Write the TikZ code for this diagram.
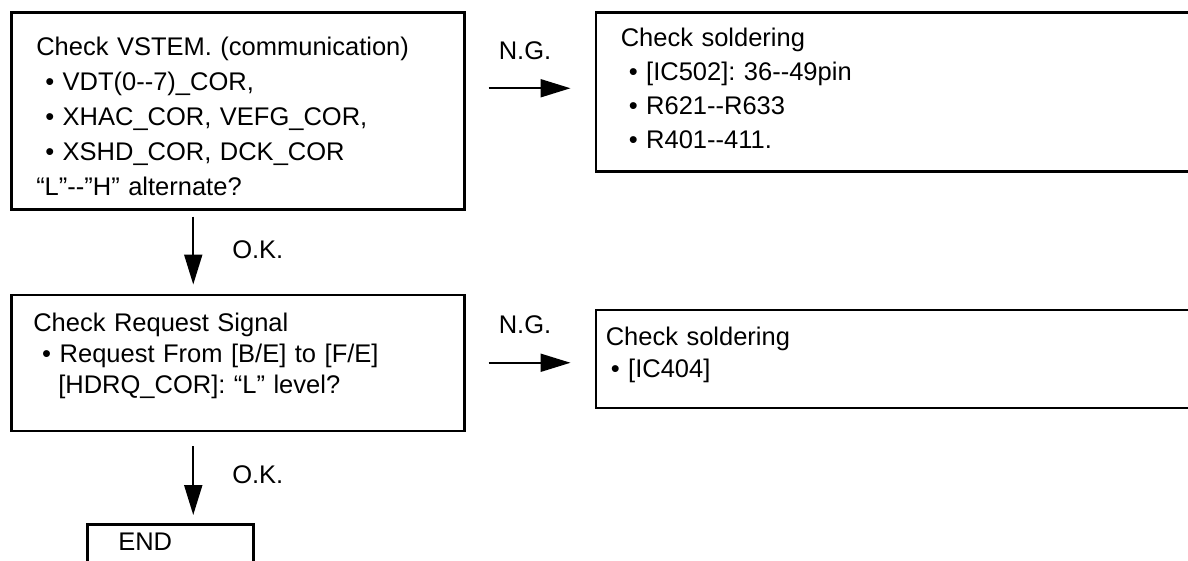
\documentclass[tikz,border=0pt]{standalone}
\usepackage{fontspec}
\setmainfont{Liberation Sans}
\frenchspacing
\usepackage{tikz}
\usetikzlibrary{positioning,arrows.meta}

\begin{document}
\begin{tikzpicture}[x=1pt, y=-1pt,
	box/.style={draw, line width=2.5pt, rectangle, align=left, anchor=north west, font=\fontsize{25.5}{34}\selectfont},
	flow/.style={-{Triangle[length=30pt,width=18pt]}, line width=2pt},
	lbl/.style={inner sep=0pt, font=\fontsize{25.5}{34}\selectfont}]
\useasboundingbox (0,0) rectangle (1188,560);
\node[box, font=\fontsize{25.5}{35}\selectfont, minimum width=453pt, minimum height=197pt, text width=403pt, inner xsep=25pt] (chk_vstem) at (10,11)
	{\rule{0pt}{29pt}Check VSTEM. (communication)\\
	\hspace*{9pt}\textbullet\ VDT(0-{}-7)\_COR,\\
	\hspace*{9pt}\textbullet\ XHAC\_COR, VEFG\_COR,\\
	\hspace*{9pt}\textbullet\ XSHD\_COR, DCK\_COR\\
	“L”-{}-”H” alternate?};
\node[box, font=\fontsize{25.5}{31}\selectfont, minimum width=453pt, minimum height=136pt, text width=409pt, inner xsep=22pt] (chk_req) [below=83pt of chk_vstem.south west, anchor=north west]
	{Check Request Signal\\
	\hspace*{9pt}\textbullet\ Request From [B/E] to [F/E]\\
	\hspace*{25pt}[HDRQ\_COR]: “L” level?\rule[-19pt]{0pt}{1pt}};
\node[box, minimum width=640pt, minimum height=159pt, text width=590pt, inner xsep=25pt] (sol_1) [right=129pt of chk_vstem.north east, anchor=north west]
	{Check soldering\\
	\hspace*{8pt}\textbullet\ [IC502]: 36-{}-49pin\\
	\hspace*{8pt}\textbullet\ R621-{}-R633\\
	\hspace*{8pt}\textbullet\ R401-{}-411.\rule[-6pt]{0pt}{1pt}};
\node[box, font=\fontsize{25.5}{32}\selectfont, minimum width=640pt, minimum height=98pt, text width=620pt, inner xsep=10pt] (sol_2) [below=136pt of sol_1.south west, anchor=north west]
	{Check soldering\\
	\hspace*{5pt}\textbullet\ [IC404]\rule[-12pt]{0pt}{1pt}};
\node[box, minimum width=166pt, minimum height=60pt, text width=104pt, inner xsep=31pt] (end_0) [below=91pt of chk_req.south west, anchor=north west, xshift=76pt]
	{END\rule[-26pt]{0pt}{1pt}};
\path[flow]	([xshift=-44.5pt]chk_vstem.south)	edge	[shorten <=6pt, shorten >=9pt]	node	[lbl, right=38pt, pos=0.47]	{O.K.}	([xshift=-44.5pt]chk_req.north)
			([xshift=-44.5pt]chk_req.south)		edge	[shorten <=14pt, shorten >=8pt]	node	[lbl, right=38pt, pos=0.47]	{O.K.}	([xshift=-44.5pt]chk_req.south |- end_0.north)
			([yshift=3.5pt]chk_vstem.east |- sol_1.west)	edge	[shorten <=23pt, shorten >=24pt]	node	[lbl, above=28pt, xshift=-5pt]	{N.G.}	([yshift=3.5pt]sol_1.west)
			(chk_req.east)		edge	[shorten <=23pt, shorten >=24pt]	node	[lbl, above=28pt, xshift=-5pt]	{N.G.}	(chk_req.east -| sol_2.west);
\end{tikzpicture}
\end{document}
